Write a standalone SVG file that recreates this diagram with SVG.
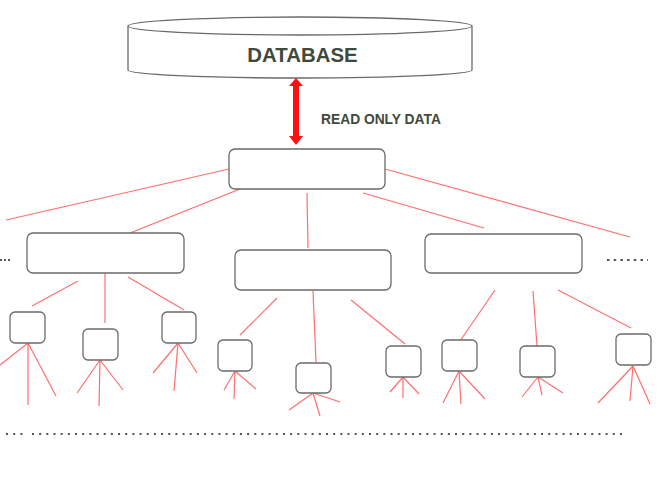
<svg xmlns="http://www.w3.org/2000/svg" width="660" height="477" viewBox="0 0 660 477">
<style>
.box{fill:#fff;stroke:#6a6a6a;stroke-width:1.3}
.ln{stroke:#ff6f6f;stroke-width:1.2;fill:none}
.lbl{font-family:"Liberation Sans",Arial,sans-serif;font-weight:bold;fill:#3f4a3b}
.dots{stroke:#555;stroke-width:2;fill:none}
</style>
<rect width="660" height="477" fill="#fff"/>
<g id="database">
<path d="M128,26 L128,70 A172,8 0 0 0 472,70 L472,26" class="box"/>
<ellipse cx="300" cy="26" rx="172" ry="9" class="box"/>
<text x="302.5" y="62" text-anchor="middle" font-size="20.4" class="lbl">DATABASE</text>
</g>
<g id="read-arrow">
<path d="M293,86 L293,136 L289,136 L296,145 L303,136 L299,136 L299,86 L303,86 L296,78 L289,86 Z" fill="#ff1010"/>
<text x="321" y="124" font-size="13.8" class="lbl">READ ONLY DATA</text>
</g>
<g id="connectors">
<line class="ln" x1="229" y1="169" x2="6" y2="220"/>
<line class="ln" x1="245" y1="187" x2="130" y2="233"/>
<line class="ln" x1="307" y1="193" x2="308" y2="248"/>
<line class="ln" x1="363" y1="193" x2="484" y2="228"/>
<line class="ln" x1="385" y1="169" x2="630" y2="237"/>
<line class="ln" x1="78" y1="281" x2="32" y2="306"/>
<line class="ln" x1="105" y1="273" x2="105" y2="323"/>
<line class="ln" x1="128" y1="277" x2="184" y2="310"/>
<line class="ln" x1="277" y1="298" x2="240" y2="335"/>
<line class="ln" x1="313" y1="291" x2="316" y2="362"/>
<line class="ln" x1="351" y1="300" x2="405" y2="344"/>
<line class="ln" x1="495" y1="290" x2="460" y2="341"/>
<line class="ln" x1="533" y1="291" x2="537" y2="346"/>
<line class="ln" x1="558" y1="290" x2="631" y2="328"/>
<path class="ln" d="M28,343 L0,365 M28,343 L28,405 M28,343 L56,396"/>
<path class="ln" d="M100,360 L77,393 M100,360 L99,406 M100,360 L123,390"/>
<path class="ln" d="M178,343 L153,373 M178,343 L174,391 M178,343 L197,373"/>
<path class="ln" d="M235,371 L224,390 M235,371 L234,399 M235,371 L256,389"/>
<path class="ln" d="M313,393 L289,410 M313,393 L320,416 M313,393 L340,402"/>
<path class="ln" d="M403,377 L390,392 M403,377 L403,398 M403,377 L419,394"/>
<path class="ln" d="M459,371 L443,403 M459,371 L461,404 M459,371 L485,399"/>
<path class="ln" d="M538,377 L522,397 M538,377 L542,395 M538,377 L563,393"/>
<path class="ln" d="M633,366 L598,403 M633,366 L630,401 M633,366 L650,404"/>
</g>
<g id="root"><rect class="box" x="229" y="149" width="156" height="40" rx="6"/></g>
<g id="mid-left"><rect class="box" x="27" y="233" width="157" height="40" rx="6"/></g>
<g id="mid-center"><rect class="box" x="235" y="250" width="156" height="40" rx="6"/></g>
<g id="mid-right"><rect class="box" x="425" y="234" width="157" height="39" rx="6"/></g>
<g id="leaf1"><rect class="box" x="10" y="312" width="35" height="31" rx="5"/></g>
<g id="leaf2"><rect class="box" x="83" y="329" width="35" height="31" rx="5"/></g>
<g id="leaf3"><rect class="box" x="162" y="312" width="34" height="31" rx="5"/></g>
<g id="leaf4"><rect class="box" x="218" y="340" width="34" height="31" rx="5"/></g>
<g id="leaf5"><rect class="box" x="296" y="363" width="35" height="30" rx="5"/></g>
<g id="leaf6"><rect class="box" x="386" y="346" width="35" height="31" rx="5"/></g>
<g id="leaf7"><rect class="box" x="442" y="340" width="35" height="31" rx="5"/></g>
<g id="leaf8"><rect class="box" x="520" y="346" width="35" height="31" rx="5"/></g>
<g id="leaf9"><rect class="box" x="616" y="334" width="35" height="31" rx="5"/></g>
<g id="ellipses">
<line class="dots" x1="0" y1="260" x2="12" y2="260" stroke-dasharray="2 2"/>
<line class="dots" x1="607" y1="260" x2="648" y2="260" stroke-width="2.5" stroke-dasharray="2.5 4.2"/>
<line class="dots" x1="6" y1="434" x2="24" y2="434" stroke-dasharray="2 5.2"/>
<line class="dots" x1="32" y1="434" x2="623" y2="434" stroke-dasharray="2 5.17"/>
</g>
</svg>
